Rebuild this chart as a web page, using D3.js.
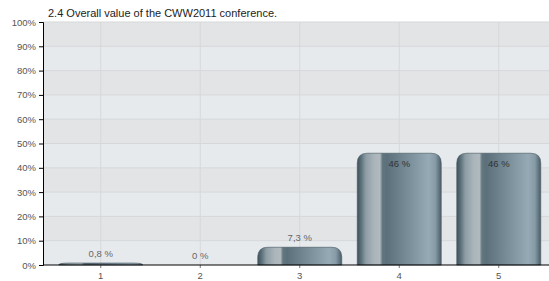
<!DOCTYPE html>
<html>
<head>
<meta charset="utf-8">
<script src="https://cdn.jsdelivr.net/npm/d3@7"></script>
<style>
  body { margin: 0; background: #fff; }
  svg { display: block; font-family: "Liberation Sans", Arial, sans-serif; }
</style>
</head>
<body>
<svg id="canvas" width="549" height="281"></svg>
<script>
const title = "2.4 Overall value of the CWW2011 conference.";
const categories = ["1", "2", "3", "4", "5"];
const values = [0.8, 0, 7.3, 46, 46];
const valueLabels = ["0,8 %", "0 %", "7,3 %", "46 %", "46 %"];
const yTicks = [0, 10, 20, 30, 40, 50, 60, 70, 80, 90, 100];

let svg = d3.select("#canvas");
let plotL = 43, plotR = 549, plotT = 22, plotB = 265;

let x = d3.scaleBand().domain(categories).range([51, 548.5]);
let y = d3.scaleLinear().domain([0, 100]).range([plotB, plotT]);

// gradient for the bars
let defs = svg.append("defs");
let grad = defs.append("linearGradient").attr("id", "barGrad")
    .attr("x1", "0").attr("x2", "1").attr("y1", "0").attr("y2", "0");
[
  [0, "#3e525c"], [0.05, "#5f737d"], [0.1, "#8d9ca4"], [0.2, "#aab5ba"],
  [0.27, "#b0babe"], [0.3, "#62767f"], [0.35, "#5b707a"], [0.85, "#95aab5"],
  [0.93, "#869ba6"], [1, "#4a5e68"]
].forEach(s => grad.append("stop").attr("offset", s[0]).attr("stop-color", s[1]));

// background stripes
svg.selectAll("rect.stripe")
    .data(yTicks.slice(0, -1))
    .enter()
    .append("rect")
    .attr("x", plotL)
    .attr("y", d => y(d + 10))
    .attr("width", plotR - plotL)
    .attr("height", d => y(d) - y(d + 10))
    .attr("fill", (d, i) => i % 2 == 0 ? "#e7eaed" : "#e3e4e6");

// grid
svg.selectAll("line.hgrid")
    .data(yTicks.slice(1))
    .enter()
    .append("line")
    .attr("x1", plotL).attr("x2", plotR)
    .attr("y1", d => y(d)).attr("y2", d => y(d))
    .attr("stroke", "#d6d7d9");
svg.selectAll("line.vgrid")
    .data(categories)
    .enter()
    .append("line")
    .attr("x1", d => x(d) + x.bandwidth() / 2).attr("x2", d => x(d) + x.bandwidth() / 2)
    .attr("y1", plotT).attr("y2", plotB)
    .attr("stroke", "#d6d7d9");

// bars
let barW = 84;
let r = 10;
let barPath = (d, i) => {
    let cx = x(categories[i]) + x.bandwidth() / 2;
    let x0 = cx - barW / 2, x1 = cx + barW / 2;
    let yt = y(d), h = plotB - yt;
    let rr = Math.min(r, h);
    if (h <= 0) return "";
    return `M${x0},${plotB} L${x0},${yt + rr} Q${x0},${yt} ${x0 + r},${yt} L${x1 - r},${yt} Q${x1},${yt} ${x1},${yt + rr} L${x1},${plotB} Z`;
};
svg.selectAll("path.bar")
    .data(values)
    .enter()
    .append("path")
    .attr("d", barPath)
    .attr("fill", "url(#barGrad)");
svg.selectAll("path.bartop")
    .data(values)
    .enter()
    .append("path")
    .attr("d", barPath)
    .attr("fill", "none")
    .attr("stroke", "#42545d")
    .attr("stroke-width", 1)
    .attr("stroke-opacity", 0.6);

// value labels
svg.selectAll("text.val")
    .data(values)
    .enter()
    .append("text")
    .attr("x", (d, i) => x(categories[i]) + x.bandwidth() / 2)
    .attr("y", d => d > 20 ? y(d) + 14 : y(d) - 6)
    .attr("text-anchor", "middle")
    .attr("font-size", "9.5px")
    .attr("fill", d => d > 20 ? "#333" : "#666")
    .text((d, i) => valueLabels[i]);

// axes
let yAxis = d3.axisLeft(y).tickValues(yTicks).tickFormat(d => d + "%").tickSize(4).tickPadding(3);
let gy = svg.append("g").attr("transform", `translate(${plotL},0)`).call(yAxis);
gy.select(".domain").attr("stroke", "#000");
gy.selectAll(".tick line").attr("stroke", "#000");
gy.selectAll("text").attr("fill", "#555").attr("font-size", "9.5px").attr("font-family", "Liberation Sans, Arial, sans-serif");

let xAxis = d3.axisBottom(x).tickSize(3).tickPadding(4);
let gx = svg.append("g").attr("transform", `translate(0,${plotB})`).call(xAxis);
gx.select(".domain").remove();
gx.selectAll(".tick line").attr("stroke", "#777");
gx.selectAll("text").attr("fill", "#555").attr("font-size", "9.5px").attr("font-family", "Liberation Sans, Arial, sans-serif");
svg.append("line").attr("x1", plotL).attr("x2", plotR).attr("y1", plotB).attr("y2", plotB)
    .attr("stroke", "#000");

// title
svg.append("text")
    .attr("x", 48).attr("y", 17)
    .attr("font-size", "11px")
    .attr("fill", "#222")
    .text(title);
</script>
</body>
</html>
